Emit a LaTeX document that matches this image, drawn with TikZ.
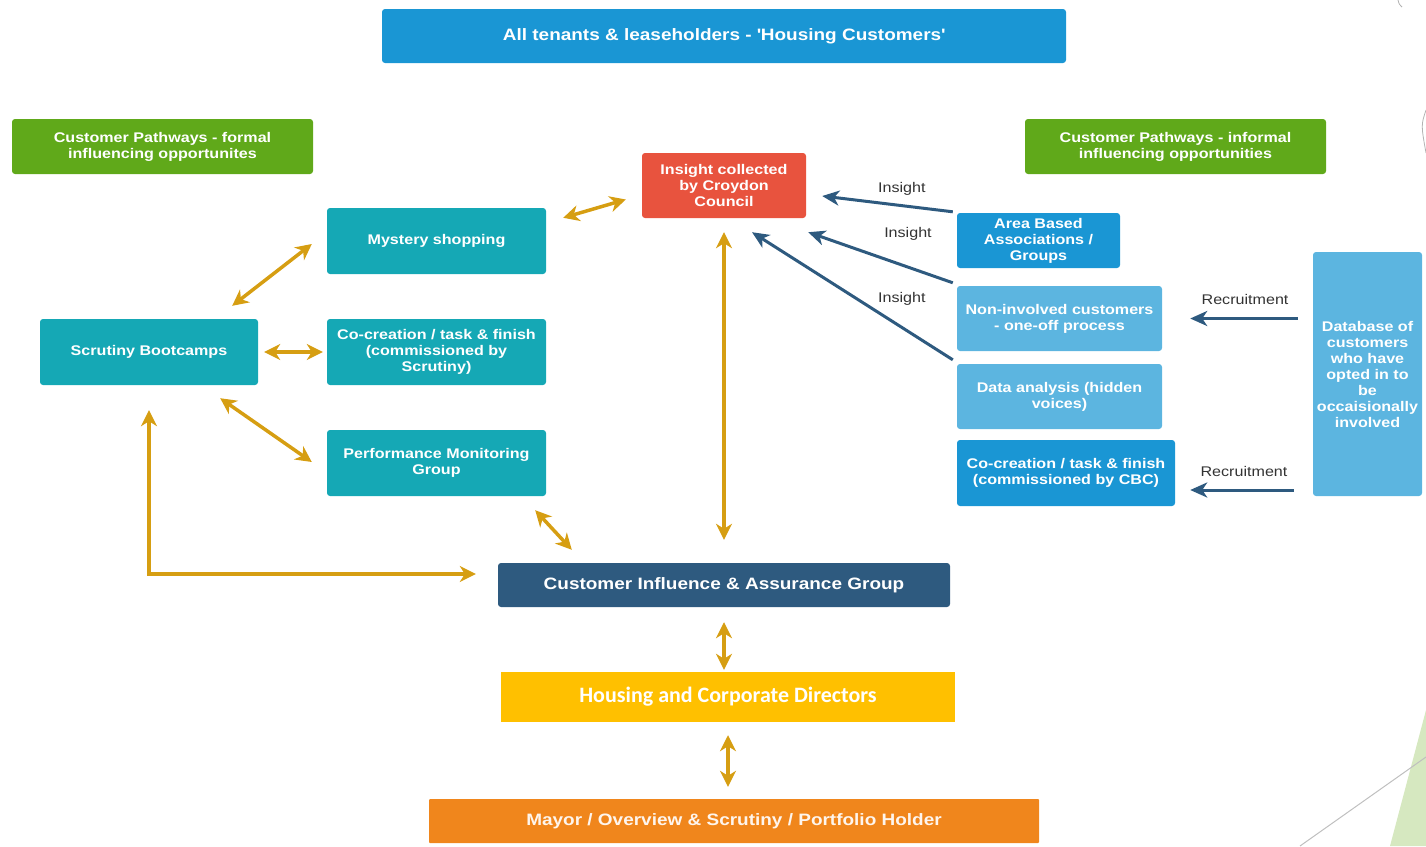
\documentclass[tikz,border=0pt]{standalone}
\usepackage{fontspec}
\setmainfont{Liberation Sans}[FakeStretch=1.15]
\newfontfamily\calib{Carlito}
\usepackage{tikz}
\usetikzlibrary{arrows.meta}
\usetikzlibrary{calc}

\definecolor{skyblue}{RGB}{26,150,212}
\definecolor{paleblue}{RGB}{92,181,224}
\definecolor{leafgreen}{RGB}{96,169,26}
\definecolor{tomato}{RGB}{232,83,62}
\definecolor{tealbox}{RGB}{21,168,181}
\definecolor{navy}{RGB}{46,90,127}
\definecolor{amber}{RGB}{255,192,0}
\definecolor{tangerine}{RGB}{240,134,28}
\definecolor{gold}{RGB}{214,158,18}
\definecolor{slide}{RGB}{214,232,192}

\tikzset{
  box/.style={rounded corners=3pt, inner sep=0pt, align=center, text=white,
    font=\bfseries\fontsize{14}{16}\selectfont},
  goldarrow/.style={draw=gold, line width=3.5pt, {Stealth[length=16pt,width=16pt,inset=5pt]}-{Stealth[length=16pt,width=16pt,inset=5pt]}},
  navyarrow/.style={draw=navy, line width=3pt, -{Stealth[length=17pt,width=15pt,inset=5pt]}},
  lbl/.style={inner sep=0pt, font=\fontsize{14}{16}\selectfont, text=black!80}
}

\begin{document}
\begin{tikzpicture}[x=1pt, y=-1pt]
  \useasboundingbox (0,0) rectangle (1426,846);

  % slide decoration
  \fill[slide] (1390,846) -- (1426,710) -- (1426,846) -- cycle;
  \draw[black!25, line width=1pt] (1300,846) -- (1426,757);
  \draw[black!30, line width=0.8pt] (1398,0) .. controls (1399,4) .. (1402,7);
  \draw[black!30, line width=0.8pt] (1426,110) .. controls (1421,125) .. (1426,153);

  % top and left column
  \node[box, fill=skyblue, minimum width=684pt, minimum height=54pt,
    font=\bfseries\fontsize{16.5}{18}\selectfont] (tenants) at (724,36)
    {All tenants \& leaseholders - \textquotesingle Housing Customers\textquotesingle};
  \node[box, fill=leafgreen, minimum width=301pt, minimum height=55pt] (formal) at (162.5,146.5)
    {Customer Pathways - formal\\influencing opportunites};
  \node[box, fill=leafgreen, minimum width=301pt, minimum height=55pt] (informal) at (1175.5,146.5)
    {Customer Pathways - informal\\influencing opportunities};
  \node[box, fill=tomato, minimum width=164pt, minimum height=65pt] (insight) at (724,185.5)
    {Insight collected\\by Croydon\\Council};
  \node[box, fill=tealbox, minimum width=219pt, minimum height=66pt] (mystery) at (436.5,241)
    {Mystery shopping};
  \node[box, fill=tealbox, minimum width=218pt, minimum height=66pt] (boot) at (149,352)
    {Scrutiny Bootcamps};
  \node[box, fill=tealbox, minimum width=219pt, minimum height=66pt] (cocr) at (436.5,352)
    {Co-creation / task \& finish\\(commissioned by\\Scrutiny)};
  \node[box, fill=tealbox, minimum width=219pt, minimum height=66pt] (perf) at (436.5,463)
    {Performance Monitoring\\Group};

  % bottom chain
  \node[box, fill=navy, minimum width=452pt, minimum height=44pt,
    font=\bfseries\fontsize{16.5}{18}\selectfont] (ciag) at (724,585)
    {Customer Influence \& Assurance Group};
  \node[box, rounded corners=0pt, fill=amber, minimum width=454pt, minimum height=50pt,
    font=\calib\bfseries\fontsize{22}{24}\selectfont] (dirs) at (728,697)
    {Housing and Corporate Directors};
  \node[box, rounded corners=1pt, fill=tangerine, minimum width=610pt, minimum height=44pt,
    font=\bfseries\fontsize{16.5}{18}\selectfont, text=white!92!tangerine] (mayor) at (734,821)
    {Mayor / Overview \& Scrutiny / Portfolio Holder};

  % right column
  \node[box, fill=skyblue, minimum width=163pt, minimum height=55pt] (area) at (1038.5,240.5)
    {Area Based\\Associations /\\Groups};
  \node[box, fill=paleblue, minimum width=205pt, minimum height=65pt] (noninv) at (1059.5,318.5)
    {Non-involved customers\\- one-off process};
  \node[box, fill=paleblue, minimum width=205pt, minimum height=65pt] (data) at (1059.5,396.5)
    {Data analysis (hidden\\voices)};
  \node[box, fill=skyblue, minimum width=218pt, minimum height=66pt] (cocbc) at (1066,473)
    {Co-creation / task \& finish\\(commissioned by CBC)};
  \node[box, fill=paleblue, minimum width=109pt, minimum height=244pt] (db) at (1367.5,374)
    {Database of\\customers\\who have\\opted in to\\be\\occaisionally\\involved};

  % gold links
  \draw[goldarrow] ($(mystery.north east)+(17,10)$) -- ($(insight.west)+(-16,14)$);
  \draw[goldarrow] ($(boot.north east)+(-26,-13)$) -- ($(mystery.west)+(-15,3)$);
  \draw[goldarrow, shorten <=6pt, shorten >=4pt] (boot) -- (cocr);
  \draw[goldarrow] ($(boot.south east)+(-38,13)$) -- ($(perf.west)+(-15,-1)$);
  \draw[goldarrow] ($(perf.south east)+(-11,14)$) -- ($(ciag.north west)+(74,-13)$);
  \draw[goldarrow, shorten <=14pt, shorten >=23pt] (insight) -- (ciag);
  \draw[goldarrow, shorten <=25pt, shorten >=22pt] (boot.south) |- ($(ciag.west)+(0,-11)$);
  \draw[goldarrow, shorten <=15pt, shorten >=2pt] (ciag.south) -- (ciag.south |- dirs.north);
  \draw[goldarrow, shorten <=13pt, shorten >=12pt] (dirs.south) -- (dirs.south |- mayor.north);

  % insight and recruitment
  \draw[navyarrow] ($(area.north west)+(-4,-1)$) -- ($(insight.east)+(16,10.5)$)
    node[lbl, pos=.39, above=9pt] {Insight};
  \draw[navyarrow] ($(noninv.north west)+(-4,-3)$) -- ($(insight.south east)+(2,14)$)
    node[lbl, pos=.31, above=25pt] {Insight};
  \draw[navyarrow] ($(data.north west)+(-4,-4)$) -- ($(insight.south)+(28,14)$)
    node[lbl, pos=.254, above=20pt] {Insight};
  \draw[navyarrow, shorten <=15pt, shorten >=28pt] (db.west |- noninv.east) -- (noninv.east)
    node[lbl, pos=.45, above=12pt] {Recruitment};
  \draw[navyarrow, shorten <=19pt, shorten >=15pt] ($(db.west |- cocbc.east)+(0,17)$) -- ($(cocbc.east)+(0,17)$)
    node[lbl, pos=.5, above=12pt] {Recruitment};

\end{tikzpicture}
\end{document}
